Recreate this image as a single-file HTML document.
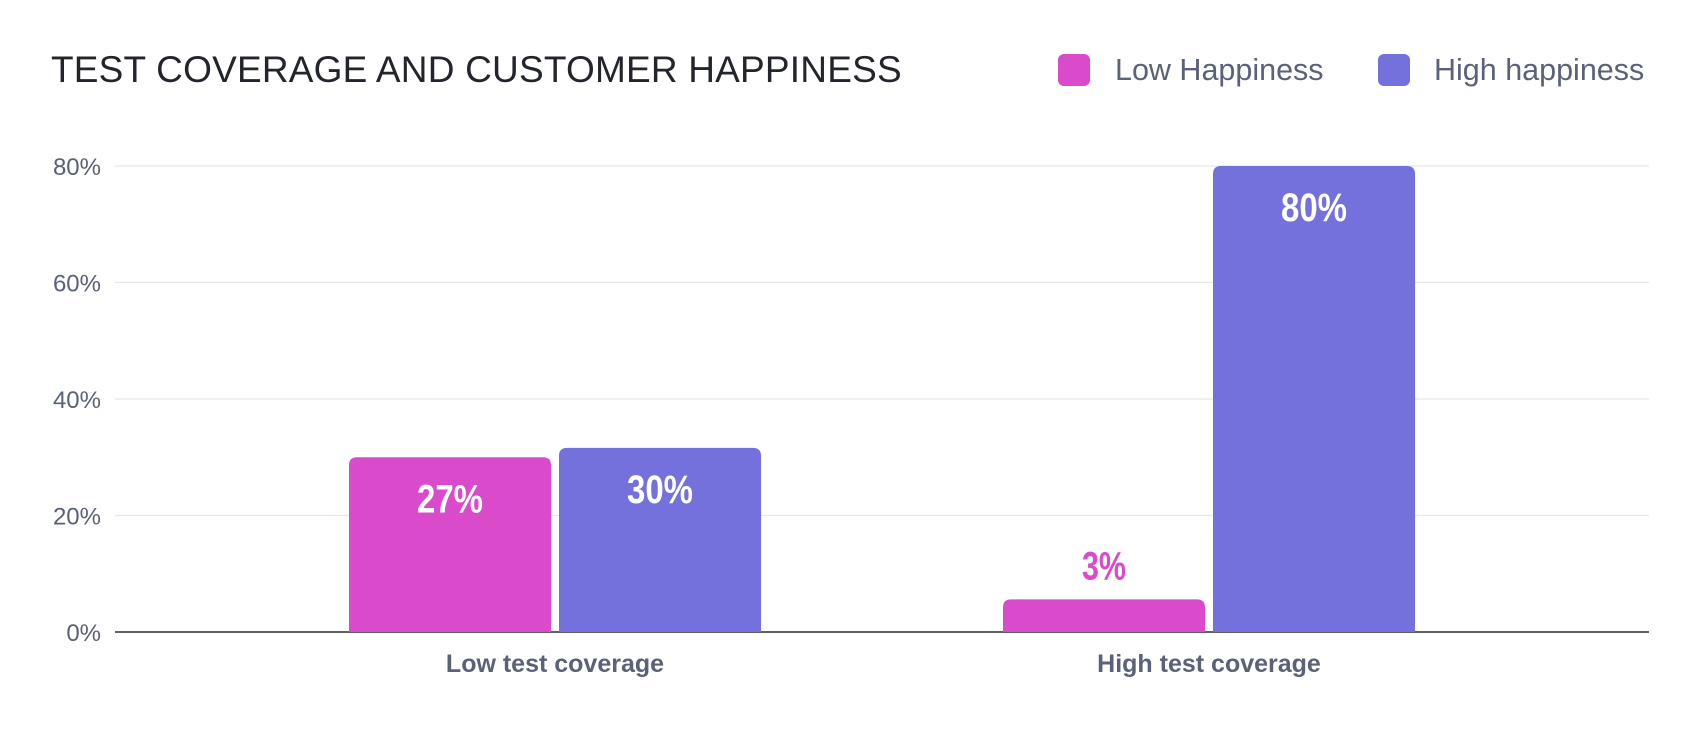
<!DOCTYPE html>
<html><head><meta charset="utf-8"><style>
body{margin:0;background:#fff;}
svg{display:block;font-family:"Liberation Sans",sans-serif;}
</style></head><body>
<svg id="chart" width="1700" height="730">
<text x="51" y="82" font-size="37" fill="#23252d" letter-spacing="0.2">TEST COVERAGE AND CUSTOMER HAPPINESS</text>
<g>
<g>
<rect x="1058" y="54" width="32" height="32" rx="6" fill="#d94bcb"/>
<text x="1115" y="80" font-size="30.5" fill="#5a6178">Low Happiness</text></g>
<g>
<rect x="1378" y="54" width="32" height="32" rx="6" fill="#7470dc"/>
<text x="1434" y="80" font-size="30.5" fill="#5a6178">High happiness</text></g>
</g>
<g id="grid"></g><g id="bars"></g><g id="labels"></g>
</svg>
<script>
const categories=["Low test coverage","High test coverage"];
const lowValues=[30,5.6];
const highValues=[31.6,80];
const lowLabels=["27%","3%"];
const highLabels=["30%","80%"];
const yTicks=[0,20,40,60,80];
const yTickLabels=["0%","20%","40%","60%","80%"];
const NS="http://www.w3.org/2000/svg";
const L=115,R=1649,Y0=632,Y80=166;
const y=v=>Y0-(v/80)*(Y0-Y80);
const STEP=654,PAD=113;
const xc=i=>L+PAD+STEP*(i+0.5);
const BW=202,GAP=8;
function mk(t,a,p){const e=document.createElementNS(NS,t);for(const k in a)e.setAttribute(k,a[k]);p.appendChild(e);return e;}
const grid=document.getElementById('grid'),bars=document.getElementById('bars'),labels=document.getElementById('labels');
yTicks.forEach((t,i)=>{
 const ln=mk('line',{x1:L,x2:R,y1:y(t),y2:y(t),stroke:t===0?'#2a2b33':'#e8e8ec','stroke-width':t===0?1.5:1.2},grid);
 
 
 const tx=mk('text',{x:101,y:y(t)+9,'font-size':24,fill:'#5a6178','text-anchor':'end'},grid);
 tx.textContent=yTickLabels[i];
 
 
});
function bar(x,v,color,lab,name){
 const top=y(v),h=Y0-top,r=Math.min(8,h/2);
 const p=mk('path',{d:`M${x},${Y0}V${top+r}Q${x},${top} ${x+r},${top}H${x+BW-r}Q${x+BW},${top} ${x+BW},${top+r}V${Y0}Z`,fill:color},bars);
 
 
 const inside=h>60;
 const tl=lab.length*22;
 const t=mk('text',{x:x+BW/2,y:inside?top+55:top-20,'font-size':40,'font-weight':'bold',fill:inside?'#fff':color,'text-anchor':'middle',textLength:tl,lengthAdjust:'spacingAndGlyphs','font-family':'"Liberation Sans Narrow","Liberation Sans",sans-serif'},labels);
 t.textContent=lab;
 
 
}
categories.forEach((c,i)=>{
 const cx=xc(i);
 bar(cx-GAP/2-BW,lowValues[i],'#d94bcb',lowLabels[i],'bar-low-'+i);
 bar(cx+GAP/2,highValues[i],'#7470dc',highLabels[i],'bar-high-'+i);
 const t=mk('text',{x:cx,y:672,'font-size':25,'font-weight':'bold',fill:'#5a6178','text-anchor':'middle'},labels);
 t.textContent=c;
 
 
});
</script>
</body></html>
